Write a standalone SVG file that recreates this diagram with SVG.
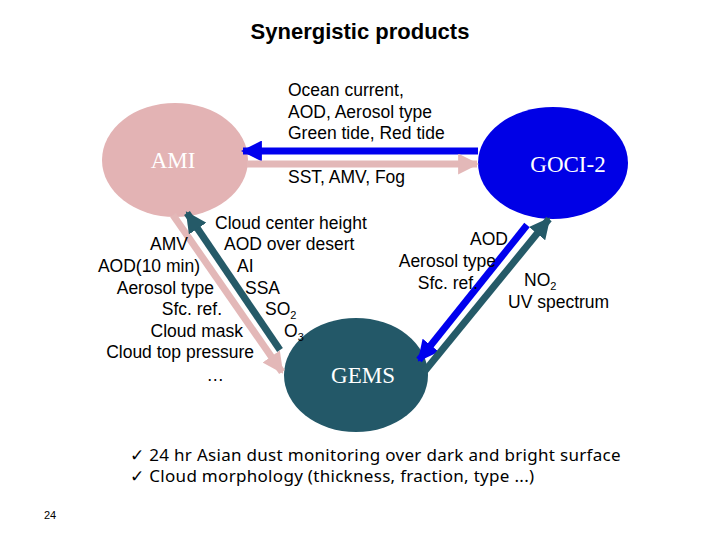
<svg xmlns="http://www.w3.org/2000/svg" width="720" height="540" viewBox="0 0 720 540">
<defs>
<style>
.t{font-family:"Liberation Sans",Arial,sans-serif;font-size:17.5px;fill:#000}
.n{font-family:"Liberation Serif","Times New Roman",serif;font-size:23px;fill:#fff;text-anchor:middle}
.b{font-family:"Noto Sans","DejaVu Sans",sans-serif;font-size:17px;letter-spacing:0.3px;fill:#000}
.pk{stroke:#e3b8b8;stroke-width:7;fill:none}
.bl{stroke:#0000ee;stroke-width:7;fill:none}
.tl{stroke:#255a68;stroke-width:7;fill:none}
</style>
<marker id="mp" viewBox="0 0 10 10" refX="9" refY="5" markerWidth="3" markerHeight="3" orient="auto" markerUnits="strokeWidth"><path d="M0,0L10,5L0,10z" fill="#e3b8b8"/></marker>
<marker id="mb" viewBox="0 0 10 10" refX="9" refY="5" markerWidth="3" markerHeight="3" orient="auto" markerUnits="strokeWidth"><path d="M0,0L10,5L0,10z" fill="#0000ee"/></marker>
<marker id="mt" viewBox="0 0 10 10" refX="9" refY="5" markerWidth="3" markerHeight="3" orient="auto" markerUnits="strokeWidth"><path d="M0,0L10,5L0,10z" fill="#255a68"/></marker>
</defs>
<rect width="720" height="540" fill="#fff"/>
<text x="360" y="39" text-anchor="middle" font-family="Liberation Sans,Arial,sans-serif" font-size="22" font-weight="bold" fill="#000">Synergistic products</text>
<g id="AMI"><ellipse cx="175" cy="160" rx="73" ry="57" fill="#e3b3b4"/><text class="n" x="173" y="168">AMI</text></g>
<g id="GOCI-2"><ellipse cx="553" cy="163" rx="75" ry="56" fill="#0000e6"/><text class="n" x="568" y="172">GOCI-2</text></g>
<g id="GEMS"><ellipse cx="356" cy="375" rx="72" ry="57" fill="#235868"/><text class="n" x="363" y="383">GEMS</text></g>
<g id="connectors">
<line class="bl" x1="478" y1="151" x2="243" y2="151" marker-end="url(#mb)"/>
<line class="pk" x1="247" y1="164" x2="477" y2="164" marker-end="url(#mp)"/>
<line class="pk" x1="173" y1="215" x2="282" y2="372" marker-end="url(#mp)"/>
<line class="tl" x1="280" y1="350" x2="187" y2="213" marker-end="url(#mt)"/>
<line class="bl" x1="527" y1="225" x2="419" y2="360" marker-end="url(#mb)"/>
<line class="tl" x1="424" y1="372" x2="549" y2="219" marker-end="url(#mt)"/>
</g>
<g class="t">
<text x="288" y="96">Ocean current,</text>
<text x="288" y="118">AOD, Aerosol type</text>
<text x="288" y="139">Green tide, Red tide</text>
<text x="288" y="183">SST, AMV, Fog</text>
</g>
<g class="t" text-anchor="end">
<text x="188" y="250">AMV</text>
<text x="200" y="272">AOD(10 min)</text>
<text x="214" y="294">Aerosol type</text>
<text x="222" y="315">Sfc. ref.</text>
<text x="243" y="337">Cloud mask</text>
<text x="254" y="358">Cloud top pressure</text>
<text x="224" y="381">…</text>
</g>
<g class="t">
<text x="215" y="229">Cloud center height</text>
<text x="224" y="250">AOD over desert</text>
<text x="237" y="272">AI</text>
<text x="245" y="294">SSA</text>
<text x="265" y="315">SO<tspan font-size="11" dy="4">2</tspan></text>
<text x="284" y="337">O<tspan font-size="11" dy="4">3</tspan></text>
</g>
<g class="t" text-anchor="end">
<text x="508" y="245">AOD</text>
<text x="496" y="267">Aerosol type</text>
<text x="478" y="289">Sfc. ref.</text>
</g>
<g class="t">
<text x="524" y="286">NO<tspan font-size="11" dy="4">2</tspan></text>
<text x="508" y="308">UV spectrum</text>
</g>
<g class="b">
<text x="130" y="461">✓ 24 hr Asian dust monitoring over dark and bright surface</text>
<text x="130" y="482">✓ Cloud morphology (thickness, fraction, type ...)</text>
</g>
<text x="44" y="519" font-family="Liberation Sans,Arial,sans-serif" font-size="11" fill="#000">24</text>
</svg>
